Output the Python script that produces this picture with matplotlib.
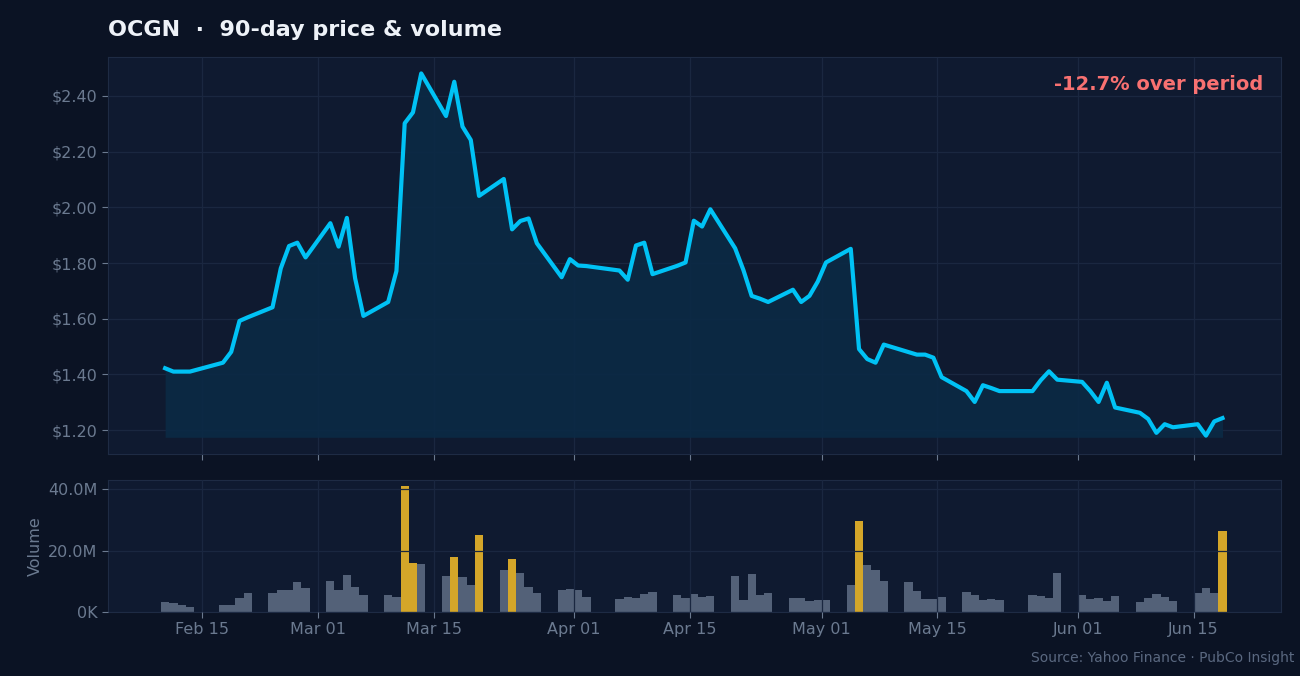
import matplotlib
matplotlib.use("Agg")
import matplotlib.pyplot as plt
import matplotlib.dates as mdates
import pandas as pd
import numpy as np
from matplotlib.ticker import FuncFormatter

dates = pd.to_datetime([
 "2026-02-10","2026-02-11","2026-02-12","2026-02-13","2026-02-17","2026-02-18","2026-02-19","2026-02-20",
 "2026-02-23","2026-02-24","2026-02-25","2026-02-26","2026-02-27",
 "2026-03-02","2026-03-03","2026-03-04","2026-03-05","2026-03-06",
 "2026-03-09","2026-03-10","2026-03-11","2026-03-12","2026-03-13",
 "2026-03-16","2026-03-17","2026-03-18","2026-03-19","2026-03-20",
 "2026-03-23","2026-03-24","2026-03-25","2026-03-26","2026-03-27",
 "2026-03-30","2026-03-31","2026-04-01","2026-04-02",
 "2026-04-06","2026-04-07","2026-04-08","2026-04-09","2026-04-10",
 "2026-04-13","2026-04-14","2026-04-15","2026-04-16","2026-04-17",
 "2026-04-20","2026-04-21","2026-04-22","2026-04-23","2026-04-24",
 "2026-04-27","2026-04-28","2026-04-29","2026-04-30","2026-05-01",
 "2026-05-04","2026-05-05","2026-05-06","2026-05-07","2026-05-08",
 "2026-05-11","2026-05-12","2026-05-13","2026-05-14","2026-05-15",
 "2026-05-18","2026-05-19","2026-05-20","2026-05-21","2026-05-22",
 "2026-05-26","2026-05-27","2026-05-28","2026-05-29",
 "2026-06-01","2026-06-02","2026-06-03","2026-06-04","2026-06-05",
 "2026-06-08","2026-06-09","2026-06-10","2026-06-11","2026-06-12",
 "2026-06-15","2026-06-16","2026-06-17","2026-06-18"]) + pd.Timedelta(hours=12)

price = [1.422,1.410,1.410,1.410,1.442,1.481,1.592,1.605,
 1.641,1.781,1.861,1.873,1.820,
 1.943,1.859,1.962,1.745,1.610,
 1.660,1.771,2.302,2.341,2.481,
 2.328,2.451,2.290,2.242,2.041,
 2.102,1.921,1.951,1.960,1.871,
 1.749,1.814,1.791,1.789,
 1.773,1.740,1.863,1.873,1.760,
 1.790,1.802,1.952,1.931,1.993,
 1.853,1.775,1.682,1.672,1.660,
 1.704,1.660,1.682,1.733,1.802,
 1.851,1.491,1.455,1.442,1.507,
 1.480,1.471,1.471,1.460,1.390,
 1.340,1.301,1.361,1.351,1.340,
 1.340,1.379,1.411,1.381,
 1.373,1.340,1.301,1.370,1.281,
 1.262,1.240,1.190,1.221,1.210,
 1.221,1.180,1.231,1.243]

volume_m = [3.2,2.8,2.2,1.5,2.2,2.2,4.5,6.1,
 6.1,7.1,7.1,9.7,7.7,
 10.0,7.1,12.0,8.1,5.4,
 5.4,4.8,41.1,16.0,15.5,
 11.7,17.9,11.3,8.7,25.1,
 13.6,17.2,12.6,8.1,6.1,
 7.1,7.4,7.1,4.8,
 4.1,4.8,4.5,5.8,6.4,
 5.4,4.5,5.8,4.8,5.1,
 11.7,3.8,12.3,5.4,6.1,
 4.5,4.5,3.5,3.8,3.8,
 8.7,29.6,15.3,13.6,10.0,
 9.7,6.8,4.1,4.1,4.8,
 6.4,5.4,3.8,4.1,3.8,
 5.4,5.1,4.5,12.6,
 5.4,4.1,4.5,3.5,5.1,
 3.2,4.5,5.8,4.8,3.5,
 6.1,7.7,6.1,26.4]

spike_threshold_m = 15.8
change_label = "-12.7% over period"

FIG_BG = "#0b1324"
AX_BG = "#0f1a30"
GRID = "#1a2740"
TICK = "#6b7a90"
LINE = "#00c2f5"

fig = plt.figure(figsize=(13, 6.76), dpi=100, facecolor=FIG_BG)
ax = fig.add_axes([108/1300, 1-454/676, 1173/1300, 397/676])
axv = fig.add_axes([108/1300, 1-612/676, 1173/1300, 132/676])

x0 = pd.Timestamp("2026-02-03 14:00")
x1 = pd.Timestamp("2026-06-25 14:00")

for a in (ax, axv):
    a.set_facecolor(AX_BG)
    for s in a.spines.values():
        s.set_color("#1e2b44")
    a.tick_params(colors=TICK, labelsize=11.5, length=4)
    a.grid(True, color=GRID, linewidth=0.9)
    a.set_xlim(x0, x1)
    a.xaxis.set_major_locator(mdates.DayLocator(bymonthday=[1, 15]))
    a.xaxis.set_major_formatter(mdates.DateFormatter("%b %d"))

p = np.array(price)
base = p.min() * 0.995
ax.fill_between(dates, p, base, color="#0b2a45", alpha=0.9, linewidth=0)
ax.plot(dates, p, color=LINE, linewidth=3)
ax.set_ylim(1.114, 2.54)
ax.set_yticks(np.arange(1.2, 2.41, 0.2))
ax.yaxis.set_major_formatter(FuncFormatter(lambda v, _: f"${v:.2f}"))
ax.tick_params(axis="x", labelbottom=False)
ax.set_axisbelow(True)
ax.text(0.985, 0.955, change_label, transform=ax.transAxes, ha="right", va="top",
        color="#f87171", fontsize=14, fontweight="bold")

vol = np.array(volume_m) * 1e6
colors = ["#d4a629" if v >= spike_threshold_m else "#536178" for v in volume_m]
axv.bar(dates, vol, width=1.0, color=colors, linewidth=0)
axv.set_axisbelow(False)
axv.set_ylim(0, 43e6)
axv.set_yticks([0, 20e6, 40e6])
axv.yaxis.set_major_formatter(FuncFormatter(lambda v, _: "0K" if v == 0 else f"{v/1e6:.1f}M"))
axv.set_ylabel("Volume", color=TICK, fontsize=11.5)

fig.text(108/1300, 1-30/676, "OCGN  ·  90-day price & volume", color="#eef2f8",
         fontsize=16, fontweight="bold", va="center", ha="left")
fig.text(1294/1300, 1-658/676, "Source: Yahoo Finance · PubCo Insight", color="#5a6880",
         fontsize=10, ha="right", va="center")

fig.savefig("out.png", dpi=100, facecolor=FIG_BG)
